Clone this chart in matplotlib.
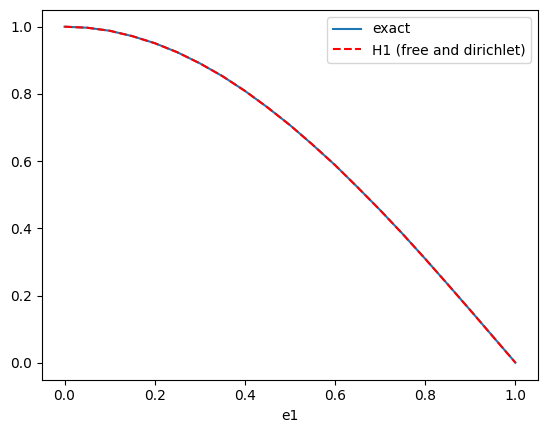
import matplotlib.pyplot as plt
import numpy as np

# values
e1 = [0.0, 0.05, 0.1, 0.15, 0.2, 0.25, 0.3, 0.35, 0.4, 0.45, 0.5,
      0.55, 0.6, 0.65, 0.7, 0.75, 0.8, 0.85, 0.9, 0.95, 1.0]
exact = [1.0, 0.997, 0.988, 0.972, 0.951, 0.924, 0.891, 0.853, 0.809, 0.760, 0.707,
         0.649, 0.588, 0.522, 0.454, 0.383, 0.309, 0.233, 0.156, 0.078, 0.0]
h1 = [1.0, 0.997, 0.988, 0.972, 0.951, 0.924, 0.891, 0.853, 0.809, 0.760, 0.707,
      0.649, 0.588, 0.522, 0.454, 0.383, 0.309, 0.233, 0.156, 0.078, 0.0]

fig = plt.figure(figsize=(5.47, 4.32), dpi=100)
ax = fig.add_axes([42 / 547, 52.5 / 432, 496 / 547, 369.6 / 432])

ax.plot(e1, exact, label='exact')
ax.plot(e1, h1, 'r--', label='H1 (free and dirichlet)')
ax.set_xlabel('e1')
ax.legend()

plt.savefig('out.png')
